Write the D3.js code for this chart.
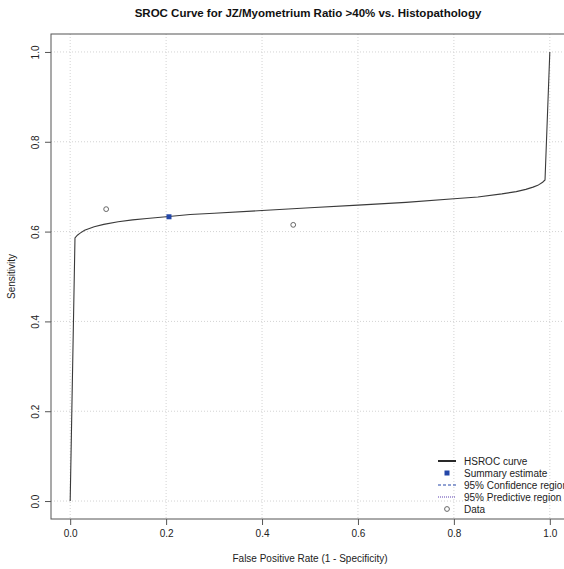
<!DOCTYPE html>
<html>
<head>
<meta charset="utf-8">
<script src="https://cdn.jsdelivr.net/npm/d3@7"></script>
<style>
  html, body { margin: 0; padding: 0; background: #fff; }
  svg { display: block; font-family: "Liberation Sans", Arial, Helvetica, sans-serif; }
</style>
</head>
<body>
<svg id="chart" width="564" height="569"></svg>
<script>
// HSROC curve: false positive rate and sensitivity
const curveFpr  = [0, 0.01, 0.015, 0.02, 0.03, 0.04, 0.05, 0.07, 0.1, 0.13, 0.16, 0.2, 0.25, 0.3, 0.4, 0.5, 0.6, 0.7, 0.8, 0.85, 0.9, 0.93, 0.95, 0.965, 0.975, 0.985, 0.99, 1];
const curveSens = [0, 0.586, 0.592, 0.596, 0.603, 0.607, 0.611, 0.616, 0.622, 0.626, 0.629, 0.633, 0.638, 0.641, 0.647, 0.653, 0.659, 0.665, 0.673, 0.677, 0.684, 0.689, 0.694, 0.699, 0.703, 0.710, 0.715, 1];

// Summary estimate
const summaryFpr = [0.206];
const summarySens = [0.633];

// Individual studies
const studyFpr  = [0.075, 0.465];
const studySens = [0.650, 0.615];

// Axis ticks
const tickValues = [0, 0.2, 0.4, 0.6, 0.8, 1.0];
const tickLabels = ["0.0", "0.2", "0.4", "0.6", "0.8", "1.0"];

const legendLabels = ["HSROC curve", "Summary estimate", "95% Confidence region", "95% Predictive region", "Data"];

const svg = d3.select("#chart");
const box = { left: 51, right: 569, top: 34, bottom: 519 };

const x = d3.scaleLinear().domain([-0.04, 1.04]).range([box.left, box.right]);
const y = d3.scaleLinear().domain([-0.04, 1.04]).range([box.bottom, box.top]);

const plot = svg.append("g");

// grid
const grid = plot.append("g")
  .attr("stroke", "#d3d3d3").attr("stroke-width", 1).attr("stroke-dasharray", "1,2");
grid.selectAll("line.v").data(tickValues).join("line").attr("class", "v")
  .attr("x1", d => x(d)).attr("x2", d => x(d)).attr("y1", box.top).attr("y2", box.bottom);
grid.selectAll("line.h").data(tickValues).join("line").attr("class", "h")
  .attr("y1", d => y(d)).attr("y2", d => y(d)).attr("x1", box.left).attr("x2", box.right);

// HSROC curve
const pts = curveFpr.map((f, i) => [f, curveSens[i]]);
plot.append("path")
  .datum(pts)
  .attr("fill", "none")
  .attr("stroke", "#3a3a3a")
  .attr("stroke-width", 1.1)
  .attr("d", d3.line().x(d => x(d[0])).y(d => y(d[1])).curve(d3.curveLinear));

// study points
plot.selectAll("circle.study").data(studyFpr.map((f, i) => [f, studySens[i]])).join("circle")
  .attr("class", "study")
  .attr("cx", d => x(d[0])).attr("cy", d => y(d[1])).attr("r", 2.4)
  .attr("fill", "none").attr("stroke", "#666").attr("stroke-width", 1);

// summary estimate
plot.selectAll("rect.summary").data(summaryFpr.map((f, i) => [f, summarySens[i]])).join("rect")
  .attr("class", "summary")
  .attr("x", d => x(d[0]) - 2.5).attr("y", d => y(d[1]) - 2.5)
  .attr("width", 5).attr("height", 5)
  .attr("fill", "#2447a8");

// frame
svg.append("rect")
  .attr("x", box.left).attr("y", box.top)
  .attr("width", box.right - box.left).attr("height", box.bottom - box.top)
  .attr("fill", "none").attr("stroke", "#555").attr("stroke-width", 1);

// x axis
const xAxis = d3.axisBottom(x).tickValues(tickValues).tickFormat((d, i) => tickLabels[i])
  .tickSizeOuter(0).tickSizeInner(6).tickPadding(5);
const gx = svg.append("g").attr("transform", `translate(0,${box.bottom})`).call(xAxis);
gx.select(".domain").remove();
gx.selectAll("line").attr("stroke", "#555");
gx.selectAll("text").attr("font-size", 10).attr("fill", "#222").attr("font-family", null);

// y axis
const yAxis = d3.axisLeft(y).tickValues(tickValues).tickFormat((d, i) => tickLabels[i])
  .tickSizeOuter(0).tickSizeInner(6);
const gy = svg.append("g").attr("transform", `translate(${box.left},0)`).call(yAxis);
gy.select(".domain").remove();
gy.selectAll("line").attr("stroke", "#555");
gy.selectAll("text")
  .attr("font-size", 10).attr("fill", "#222").attr("font-family", null)
  .attr("x", 0).attr("dy", 0)
  .attr("text-anchor", "middle")
  .attr("transform", "translate(-12,0) rotate(-90)");

// titles
svg.append("text")
  .attr("x", (box.left + box.right) / 2 - 2).attr("y", 17)
  .attr("text-anchor", "middle").attr("font-size", 11.5).attr("font-weight", "bold").attr("fill", "#111")
  .text("SROC Curve for JZ/Myometrium Ratio >40% vs. Histopathology");

svg.append("text")
  .attr("x", (box.left + box.right) / 2).attr("y", 562)
  .attr("text-anchor", "middle").attr("font-size", 10).attr("fill", "#222")
  .text("False Positive Rate (1 - Specificity)");

svg.append("text")
  .attr("transform", `translate(15,${(box.top + box.bottom) / 2}) rotate(-90)`)
  .attr("text-anchor", "middle").attr("font-size", 10).attr("fill", "#222")
  .text("Sensitivity");

// legend
const lg = svg.append("g").attr("transform", "translate(438,461)");
const rowH = 12;
const items = lg.selectAll("g").data(legendLabels).join("g")
  .attr("transform", (d, i) => `translate(0,${i * rowH})`);
items.append("text")
  .attr("x", 26).attr("y", 0).attr("dy", "0.35em")
  .attr("font-size", 10).attr("fill", "#222")
  .text(d => d);

lg.append("line").attr("x1", 0).attr("x2", 18).attr("y1", 0).attr("y2", 0)
  .attr("stroke", "#111").attr("stroke-width", 1.8);
lg.append("rect").attr("x", 6.5).attr("y", rowH - 2.5).attr("width", 5).attr("height", 5).attr("fill", "#2447a8");
lg.append("line").attr("x1", 0).attr("x2", 18).attr("y1", rowH * 2).attr("y2", rowH * 2)
  .attr("stroke", "#2447a8").attr("stroke-width", 1).attr("stroke-dasharray", "3,2");
lg.append("line").attr("x1", 0).attr("x2", 18).attr("y1", rowH * 3).attr("y2", rowH * 3)
  .attr("stroke", "#5a3fb0").attr("stroke-width", 1).attr("stroke-dasharray", "1,1");
lg.append("circle").attr("cx", 9).attr("cy", rowH * 4).attr("r", 2.4)
  .attr("fill", "none").attr("stroke", "#666").attr("stroke-width", 1);
</script>
</body>
</html>
